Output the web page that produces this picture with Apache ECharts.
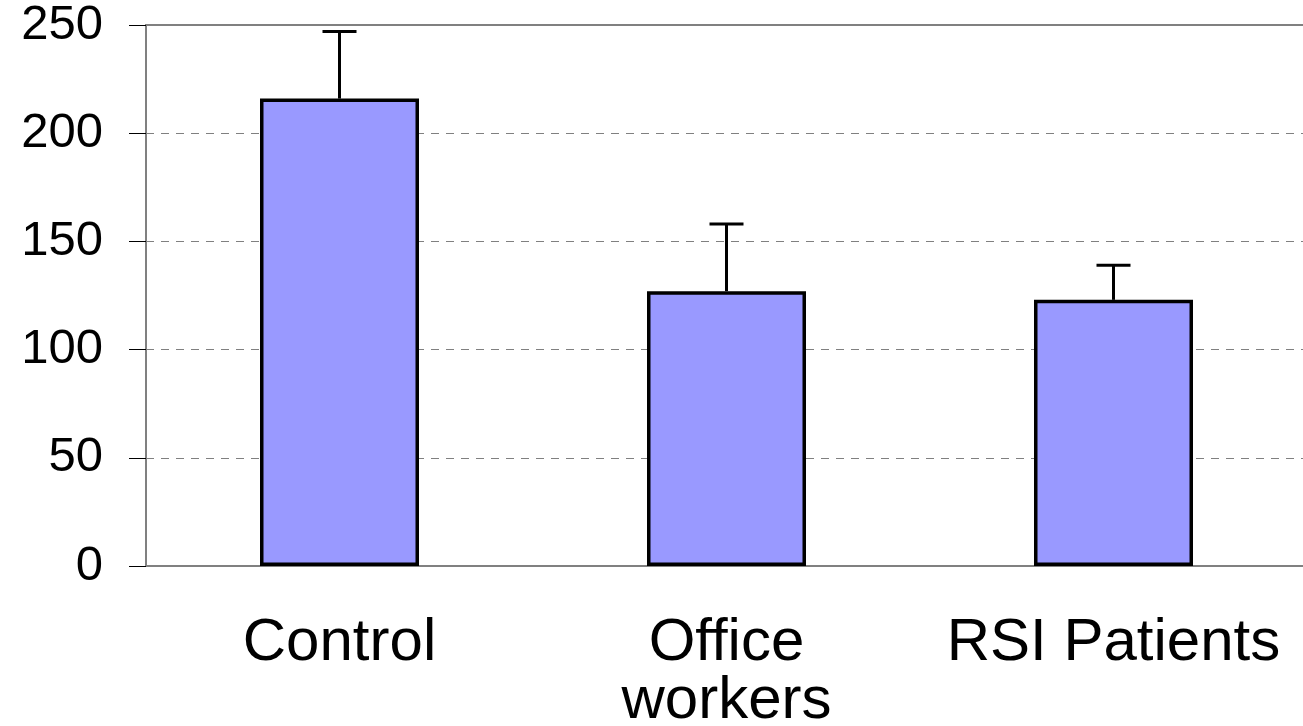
<!DOCTYPE html>
<html>
<head>
<meta charset="utf-8">
<script src="https://cdn.jsdelivr.net/npm/echarts@6/dist/echarts.min.js"></script>
<style>
  html, body { margin: 0; padding: 0; background: #fff; }
  #bar { width: 1303px; height: 726px; }
</style>
</head>
<body>
<div id="bar"></div>
<script>
const categories = ['Control', 'Office\nworkers', 'RSI Patients'];
const means = [216, 127, 123];
const errors = [31, 31, 16];
const yTicks = [0, 50, 100, 150, 200, 250];

const barChart = echarts.init(document.getElementById('bar'));

const errorData = means.map((m, i) => [i, m, m + errors[i]]);

const barOption = {
  animation: false,
  textStyle: { fontFamily: 'Liberation Sans, Arial, sans-serif' },
  grid: {
    left: 146,
    right: -4,
    top: 25,
    bottom: 160,
    outerBoundsMode: 'none',
    containLabel: false,
    show: true,
    borderColor: '#808080',
    borderWidth: 2
  },
  xAxis: {
    type: 'category',
    data: categories,
    axisLine: { lineStyle: { color: '#808080', width: 2 } },
    axisTick: { length: 16, lineStyle: { color: '#000', width: 1 } },
    axisLabel: {
      color: '#000',
      fontSize: 60,
      lineHeight: 58,
      margin: 48,
      interval: 0
    }
  },
  yAxis: {
    type: 'value',
    min: yTicks[0],
    max: yTicks[yTicks.length - 1],
    interval: 50,
    axisLine: { show: true, lineStyle: { color: '#808080', width: 2 } },
    axisTick: { show: true, length: 17, lineStyle: { color: '#000', width: 1 } },
    axisLabel: { color: '#000', fontSize: 49, margin: 43 },
    splitLine: {
      lineStyle: { color: '#808080', width: 1, type: [8, 7] }
    }
  },
  series: [
    {
      type: 'bar',
      data: means,
      barWidth: 159,
      itemStyle: { color: '#9999FF', borderColor: '#000', borderWidth: 3.5 }
    },
    {
      type: 'custom',
      data: errorData,
      z: 5,
      renderItem: function (params, api) {
        const base = api.coord([api.value(0), api.value(1)]);
        const top = api.coord([api.value(0), api.value(2)]);
        const half = 17;
        return {
          type: 'group',
          children: [
            {
              type: 'line',
              shape: { x1: base[0], y1: base[1], x2: top[0], y2: top[1] },
              style: { stroke: '#000', lineWidth: 3 }
            },
            {
              type: 'line',
              shape: { x1: top[0] - half, y1: top[1], x2: top[0] + half, y2: top[1] },
              style: { stroke: '#000', lineWidth: 3 }
            }
          ]
        };
      }
    }
  ]
};

barChart.setOption(barOption);
</script>
</body>
</html>
